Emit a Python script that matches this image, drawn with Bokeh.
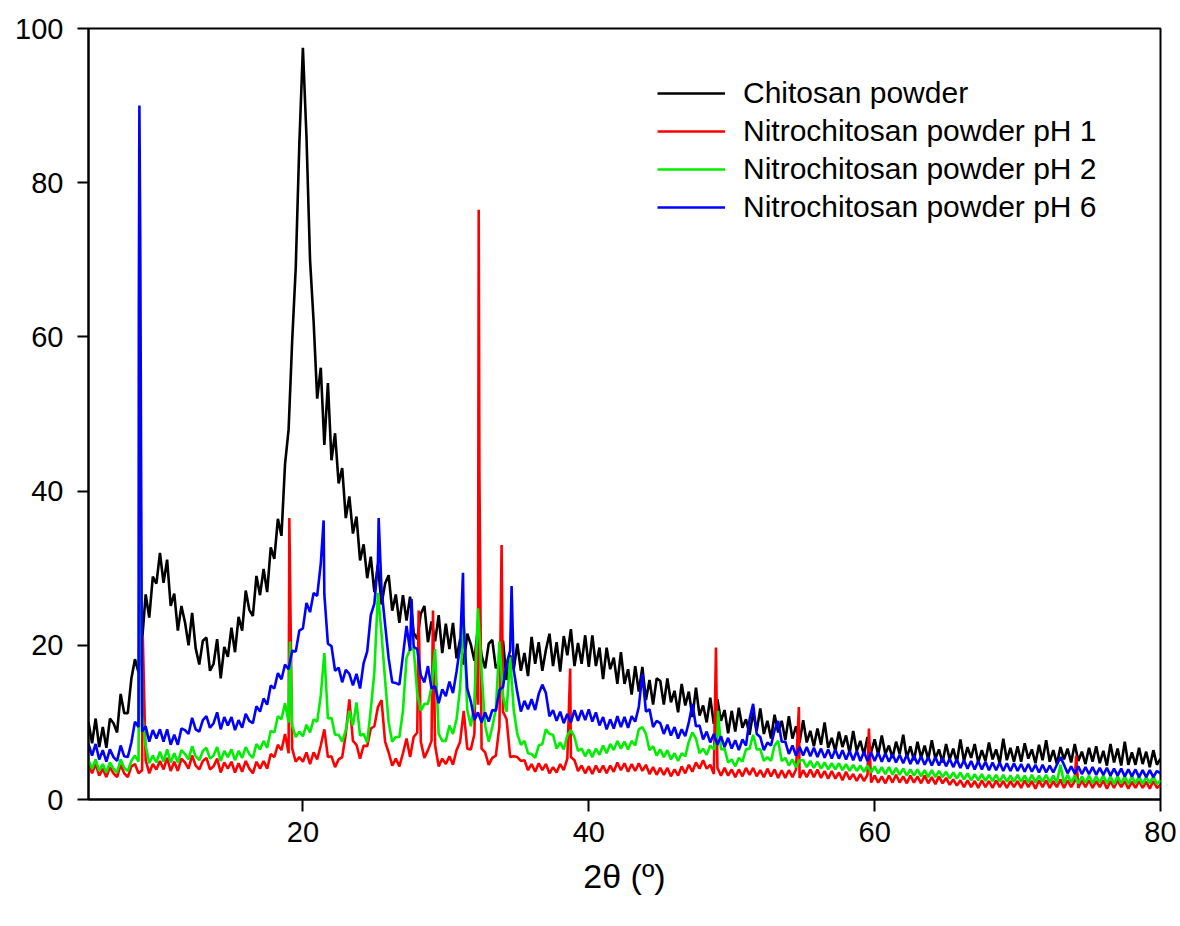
import numpy as np
from bokeh.plotting import figure
from bokeh.models import Legend, LegendItem, FixedTicker, ColumnDataSource
from bokeh.embed import file_html
from bokeh.resources import INLINE

# ---------------- data (2theta grid: 5.0 .. 80.0, step 0.25) ----------------
X_START = 5.0
X_STEP = 0.25

chitosan_y = [
    10.0, 7.3, 10.5, 6.8, 9.4, 6.7, 10.5, 9.9, 8.7, 13.7, 11.2, 11.2, 15.7, 18.2, 16.5, 20.6, 26.6, 23.6, 28.9, 28.0,
    32.0, 28.1, 31.1, 25.1, 26.7, 21.9, 25.1, 23.0, 20.0, 24.2, 19.6, 17.5, 20.6, 21.0, 16.7, 17.6, 20.8, 15.7, 19.8, 18.5,
    22.3, 19.1, 23.7, 21.9, 27.1, 24.6, 23.8, 29.0, 26.5, 29.9, 26.9, 32.7, 31.2, 36.4, 34.2, 43.5, 48.0, 59.5, 69.0, 85.0,
    97.5, 86.0, 70.0, 62.0, 52.0, 56.0, 46.0, 54.0, 44.0, 47.5, 41.0, 43.0, 36.5, 39.3, 34.5, 36.7, 31.0, 33.1, 28.7, 31.5,
    26.9, 30.4, 25.3, 28.0, 29.1, 24.5, 26.6, 22.9, 26.5, 23.2, 26.3, 21.6, 20.8, 24.1, 25.1, 20.4, 23.1, 20.5, 23.9, 19.0,
    22.8, 19.5, 22.9, 18.3, 20.8, 17.5, 21.5, 20.1, 18.0, 22.4, 18.7, 17.0, 20.2, 20.7, 17.0, 17.8, 20.6, 15.5, 18.7, 16.9,
    20.2, 16.7, 19.0, 16.0, 21.1, 17.6, 20.4, 16.7, 19.4, 21.5, 17.3, 20.4, 16.6, 21.2, 18.7, 22.1, 17.3, 20.3, 17.6, 21.3,
    17.2, 21.3, 17.3, 19.7, 15.6, 19.7, 16.9, 18.4, 15.0, 19.1, 15.0, 16.9, 13.6, 17.3, 14.0, 17.2, 12.9, 15.5, 12.3, 15.7,
    15.4, 12.3, 15.7, 12.6, 14.1, 11.3, 15.0, 12.2, 14.0, 10.7, 14.5, 10.9, 12.2, 10.0, 13.2, 9.8, 13.0, 10.2, 11.6, 8.6,
    11.5, 8.8, 11.9, 9.3, 10.4, 8.4, 11.3, 8.9, 11.8, 8.5, 10.2, 7.9, 11.0, 8.7, 10.2, 7.7, 10.8, 7.9, 9.5, 7.4,
    10.3, 7.4, 8.9, 6.9, 9.2, 7.1, 10.0, 6.7, 8.0, 6.3, 8.8, 6.8, 8.3, 6.0, 8.9, 6.3, 7.6, 5.8, 8.1, 6.1,
    7.8, 5.8, 8.3, 5.9, 7.0, 5.4, 7.5, 5.9, 8.4, 5.4, 6.9, 5.1, 7.5, 5.4, 7.0, 5.2, 7.7, 5.3, 6.5, 4.8,
    7.2, 5.2, 6.6, 4.8, 7.8, 5.0, 6.8, 5.4, 7.2, 4.8, 6.4, 5.0, 7.4, 5.2, 6.5, 4.7, 7.9, 5.1, 6.7, 4.9,
    6.9, 4.9, 7.3, 5.3, 6.5, 4.7, 7.1, 5.1, 7.7, 4.9, 6.4, 4.6, 6.8, 5.2, 6.6, 4.8, 7.2, 5.0, 6.2, 4.6,
    6.7, 4.9, 6.9, 4.7, 6.3, 4.4, 7.2, 4.8, 6.6, 4.4, 7.5, 4.5, 6.1, 4.5, 6.7, 4.6, 6.2, 4.2, 6.4, 4.5,
    5.3,
]
chitosan_peak_x = []
chitosan_peak_y = []

ph1_y = [
    4.6, 3.4, 4.6, 3.1, 4.0, 2.9, 4.2, 3.4, 2.9, 4.5, 3.4, 2.9, 4.3, 4.6, 3.4, 3.8, 5.1, 3.4, 4.6, 3.9,
    5.0, 3.9, 5.4, 3.7, 4.9, 3.7, 5.3, 4.8, 4.0, 5.7, 4.4, 3.9, 5.0, 5.4, 3.9, 4.3, 5.3, 3.5, 4.8, 4.0,
    4.9, 3.5, 4.7, 3.6, 5.0, 4.0, 3.4, 4.9, 4.0, 5.0, 4.0, 5.9, 5.5, 7.1, 6.4, 8.5, 6.0, 6.6, 4.9, 5.5,
    4.9, 6.1, 4.6, 6.1, 5.2, 7.0, 9.1, 5.5, 5.6, 4.2, 5.2, 5.5, 8.5, 13.0, 7.6, 7.1, 5.3, 7.0, 6.9, 9.2,
    9.5, 12.0, 12.9, 7.5, 6.1, 4.4, 5.3, 4.3, 6.0, 7.9, 5.5, 8.1, 8.7, 7.5, 5.4, 6.4, 7.6, 7.0, 4.3, 5.3,
    4.6, 5.6, 4.5, 6.4, 7.5, 11.5, 6.6, 6.5, 8.5, 12.3, 6.6, 6.1, 4.5, 5.4, 5.7, 9.5, 11.4, 10.4, 5.5, 5.6,
    5.5, 5.0, 5.1, 3.8, 4.6, 3.6, 4.7, 3.8, 4.6, 3.4, 4.2, 3.5, 4.6, 3.8, 5.3, 5.5, 5.1, 3.7, 4.4, 3.4,
    4.3, 3.3, 4.4, 3.5, 4.4, 3.4, 4.4, 3.6, 4.8, 3.8, 4.7, 3.6, 4.6, 3.7, 4.7, 3.7, 4.5, 3.3, 4.2, 3.2,
    4.1, 3.2, 4.1, 3.0, 3.9, 3.1, 4.3, 3.4, 4.5, 3.6, 4.8, 4.0, 5.1, 4.0, 4.5, 3.3, 4.1, 3.1, 4.1, 3.1,
    3.9, 2.9, 3.9, 3.0, 4.1, 3.2, 4.1, 3.0, 3.8, 2.9, 4.0, 3.0, 3.9, 2.8, 3.8, 2.8, 3.8, 2.9, 3.9, 2.8,
    3.8, 2.9, 3.9, 2.9, 3.9, 2.8, 3.7, 2.7, 3.7, 2.7, 3.5, 2.5, 3.6, 2.6, 3.3, 2.4, 3.3, 2.4, 3.2, 2.2,
    3.1, 2.2, 3.0, 2.1, 3.1, 2.2, 3.2, 2.2, 3.0, 2.1, 3.1, 2.2, 3.0, 2.1, 3.1, 2.1, 2.9, 2.0, 3.0, 2.1,
    2.8, 1.9, 2.6, 1.8, 2.5, 1.6, 2.5, 1.6, 2.4, 1.5, 2.5, 1.6, 2.4, 1.5, 2.5, 1.6, 2.4, 1.5, 2.4, 1.6,
    2.4, 1.5, 2.5, 1.6, 2.4, 1.4, 2.5, 1.6, 2.5, 1.5, 2.4, 1.6, 2.6, 1.5, 2.5, 1.6, 2.4, 1.5, 2.5, 1.6,
    2.5, 1.5, 2.4, 1.6, 2.5, 1.4, 2.4, 1.5, 2.5, 1.6, 2.4, 1.4, 2.3, 1.5, 2.4, 1.5, 2.3, 1.4, 2.4, 1.5,
    1.9,
]
ph1_peak_x = [8.8, 19.05, 28.1, 29.1, 32.1, 32.3, 32.35, 33.9, 38.7, 48.9, 54.7, 59.6, 74.1]
ph1_peak_y = [21.0, 36.5, 24.5, 24.5, 19.7, 76.5, 42.0, 33.0, 17.0, 19.7, 12.0, 9.2, 5.7]

ph2_y = [
    5.1, 4.0, 5.2, 3.7, 4.6, 3.5, 4.8, 4.0, 3.5, 5.2, 4.1, 3.7, 5.0, 5.7, 4.9, 11.0, 7.0, 4.7, 5.7, 4.8,
    6.2, 4.9, 6.5, 4.8, 6.0, 4.8, 6.4, 5.9, 5.2, 6.9, 5.6, 5.1, 6.3, 6.7, 5.3, 5.7, 6.8, 5.0, 6.3, 5.5,
    6.5, 5.1, 6.3, 5.4, 6.8, 5.9, 5.4, 7.2, 6.5, 7.6, 6.7, 8.9, 8.7, 10.8, 10.4, 12.5, 10.0, 9.6, 8.1, 8.8,
    8.2, 9.7, 8.7, 10.4, 10.1, 13.5, 19.0, 10.5, 10.6, 8.4, 8.4, 7.5, 9.0, 11.5, 9.6, 12.6, 8.3, 8.5, 7.4, 11.7,
    16.5, 26.8, 21.5, 15.5, 10.0, 7.5, 8.1, 8.1, 11.5, 18.4, 19.5, 19.6, 13.7, 11.5, 12.4, 12.4, 14.6, 19.5, 8.5, 7.6,
    7.6, 9.6, 8.5, 10.4, 14.5, 23.5, 11.6, 9.5, 12.5, 24.8, 16.6, 9.6, 7.5, 9.4, 11.7, 20.5, 13.4, 11.4, 18.5, 11.6,
    8.5, 7.1, 7.6, 6.0, 5.9, 5.4, 7.0, 7.2, 9.1, 8.5, 8.4, 6.6, 7.4, 6.5, 8.3, 9.0, 8.1, 6.3, 6.6, 5.6,
    6.5, 5.5, 6.6, 5.8, 7.0, 6.0, 7.2, 6.4, 7.6, 6.6, 7.5, 6.5, 7.6, 7.0, 9.1, 9.4, 8.5, 6.4, 6.9, 5.7,
    6.5, 5.5, 6.4, 5.2, 6.0, 5.0, 6.0, 5.6, 7.5, 8.7, 7.9, 6.0, 6.6, 5.8, 7.0, 6.5, 8.4, 6.5, 6.6, 4.8,
    5.2, 4.3, 5.4, 4.9, 6.5, 6.6, 8.4, 6.5, 6.5, 5.0, 5.5, 5.0, 7.0, 7.6, 5.0, 5.4, 4.4, 5.2, 4.2, 5.1,
    5.1, 4.2, 5.0, 4.1, 4.9, 4.0, 4.8, 3.9, 4.7, 3.9, 4.7, 3.8, 4.6, 3.7, 4.5, 3.7, 4.4, 3.6, 4.4, 3.5,
    4.3, 3.4, 4.2, 3.3, 4.2, 3.2, 4.1, 3.2, 4.0, 3.1, 3.9, 3.1, 3.9, 3.0, 3.8, 2.9, 3.8, 2.9, 3.7, 2.9,
    3.6, 2.7, 3.5, 2.7, 3.5, 2.6, 3.4, 2.5, 3.3, 2.5, 3.3, 2.4, 3.2, 2.4, 3.2, 2.3, 3.2, 2.3, 3.1, 2.3,
    3.2, 2.3, 3.1, 2.2, 3.2, 2.2, 3.1, 2.3, 3.2, 2.2, 3.1, 2.2, 4.5, 2.1, 3.2, 2.2, 3.1, 2.1, 3.0, 2.2,
    3.1, 2.1, 3.0, 2.2, 3.1, 2.1, 3.0, 2.0, 3.0, 2.1, 3.0, 2.0, 3.0, 2.1, 3.0, 2.0, 2.9, 2.1, 3.0, 2.0,
    2.5,
]
ph2_peak_x = [8.6, 19.1, 49.05]
ph2_peak_y = [48.0, 20.5, 11.5]

ph6_y = [
    7.2, 5.7, 7.2, 5.2, 6.4, 4.9, 6.5, 5.5, 5.0, 7.0, 5.6, 5.5, 7.4, 10.1, 9.4, 8.8, 9.5, 7.5, 9.0, 7.9,
    9.1, 7.5, 9.1, 7.1, 8.4, 7.1, 9.2, 9.0, 8.5, 10.6, 9.1, 8.8, 10.3, 10.8, 9.3, 9.9, 11.3, 9.1, 10.7, 9.6,
    10.7, 9.0, 10.3, 9.3, 11.1, 10.2, 9.9, 12.1, 11.4, 13.1, 12.3, 14.8, 14.4, 16.4, 15.6, 17.5, 16.9, 19.3, 19.2, 21.9,
    22.2, 25.5, 24.3, 26.8, 26.4, 30.6, 26.6, 20.2, 19.9, 16.7, 17.1, 15.2, 16.8, 16.3, 14.8, 16.3, 14.4, 17.7, 19.2, 23.9,
    25.4, 30.8, 27.3, 22.7, 18.3, 15.2, 15.1, 14.9, 18.7, 22.5, 19.3, 19.8, 19.5, 16.1, 15.2, 17.3, 14.4, 14.7, 12.5, 14.3,
    13.4, 15.3, 13.8, 16.6, 19.9, 22.6, 14.4, 12.7, 10.3, 11.3, 10.0, 11.3, 10.1, 11.6, 11.5, 14.2, 14.6, 17.6, 19.3, 16.8,
    13.9, 11.4, 12.8, 11.7, 13.0, 11.6, 13.7, 14.9, 13.8, 10.8, 11.6, 10.2, 11.4, 9.9, 11.1, 10.0, 11.6, 10.2, 11.6, 10.3,
    11.7, 10.1, 11.3, 9.6, 10.7, 9.1, 10.4, 9.2, 10.8, 9.4, 10.7, 9.3, 10.8, 10.1, 12.0, 16.3, 11.4, 11.7, 9.4, 10.2,
    9.9, 8.5, 9.7, 8.3, 9.4, 7.9, 9.1, 8.2, 10.0, 12.4, 9.5, 9.6, 7.8, 8.8, 7.4, 8.5, 7.1, 8.2, 6.8, 8.0,
    6.6, 7.7, 6.4, 7.8, 7.0, 10.4, 12.4, 8.5, 8.1, 6.4, 7.4, 7.0, 9.0, 10.2, 7.5, 7.5, 5.9, 7.0, 5.7, 6.8,
    5.7, 6.8, 5.6, 6.7, 5.5, 6.6, 5.4, 6.5, 5.3, 6.5, 5.3, 6.4, 5.2, 6.3, 5.1, 6.3, 5.0, 6.2, 5.0, 6.1,
    5.0, 6.1, 4.9, 6.0, 4.9, 5.9, 4.8, 5.8, 4.7, 5.8, 4.6, 5.7, 4.6, 5.6, 4.5, 5.5, 4.4, 5.5, 4.4, 5.4,
    4.3, 5.3, 4.2, 5.2, 4.1, 5.1, 4.0, 5.0, 3.9, 5.0, 3.9, 4.9, 3.8, 4.8, 3.8, 4.8, 3.7, 4.7, 3.7, 4.7,
    3.7, 4.6, 3.6, 4.6, 3.6, 4.5, 3.5, 4.5, 3.5, 4.4, 3.5, 4.5, 5.5, 4.5, 3.4, 4.3, 3.4, 4.3, 3.3, 4.2,
    3.3, 4.2, 3.2, 4.1, 3.2, 4.1, 3.1, 4.0, 3.1, 4.0, 3.0, 3.9, 3.0, 3.9, 2.9, 3.8, 2.9, 3.8, 2.9, 3.7,
    3.4,
]
ph6_peak_x = [8.52, 8.56, 8.62, 21.45, 25.3, 27.6, 31.2, 34.6]
ph6_peak_y = [63.0, 90.0, 73.0, 36.2, 36.5, 26.0, 29.4, 27.7]

series_names = ["Chitosan powder", "Nitrochitosan powder pH 1",
                "Nitrochitosan powder pH 2", "Nitrochitosan powder pH 6"]
series_colors = ["#000000", "#ff0000", "#00ee00", "#0000ff"]

x_ticks = [20, 40, 60, 80]
y_ticks = [0, 20, 40, 60, 80, 100]


def build(base, px, py):
    assert len(base) == 301, len(base)
    xs = [X_START + X_STEP * i for i in range(len(base))]
    pts = sorted(list(zip(xs, base)) + list(zip(px, py)), key=lambda t: t[0])
    return dict(x=[p[0] for p in pts], y=[p[1] for p in pts])


all_series = [
    build(chitosan_y, chitosan_peak_x, chitosan_peak_y),
    build(ph1_y, ph1_peak_x, ph1_peak_y),
    build(ph2_y, ph2_peak_x, ph2_peak_y),
    build(ph6_y, ph6_peak_x, ph6_peak_y),
]

FONT = "Liberation Sans"

p = figure(width=1180, height=926, x_range=(5, 80), y_range=(0, 100),
           output_backend="svg", toolbar_location=None,
           min_border_left=88, min_border_right=20, min_border_top=28, min_border_bottom=127)
p.background_fill_color = "white"
p.border_fill_color = "white"
p.outline_line_color = "black"
p.outline_line_width = 2
p.xgrid.visible = False
p.ygrid.visible = False

for ax in (p.xaxis[0], p.yaxis[0]):
    ax.axis_line_width = 2
    ax.axis_line_color = "black"
    ax.major_tick_line_width = 2
    ax.major_tick_line_color = "black"
    ax.major_tick_in = 0
    ax.minor_tick_line_color = None
    ax.major_label_text_font = FONT
    ax.major_label_text_font_size = "29px"
    ax.major_label_text_color = "black"

p.xaxis.ticker = FixedTicker(ticks=x_ticks)
p.yaxis.ticker = FixedTicker(ticks=y_ticks)
p.xaxis.major_tick_out = 12
p.yaxis.major_tick_out = 11
p.xaxis.major_label_standoff = 10
p.yaxis.major_label_standoff = 14
p.xaxis.axis_label = "2θ (º)"
p.xaxis.axis_label_text_font = FONT
p.xaxis.axis_label_text_font_style = "normal"
p.xaxis.axis_label_text_font_size = "34px"
p.xaxis.axis_label_text_color = "black"
p.xaxis.axis_label_standoff = 12

renderers = []
for data, color in zip(all_series, series_colors):
    r = p.line("x", "y", source=ColumnDataSource(data), line_color=color, line_width=2.6)
    renderers.append(r)

legend = Legend(items=[LegendItem(label=n, renderers=[r]) for n, r in zip(series_names, renderers)],
                location=(569, 575), padding=0, margin=0,
                border_line_color=None, background_fill_alpha=0,
                label_text_font=FONT, label_text_font_size="30px", label_text_color="black",
                glyph_width=68, glyph_height=30, label_height=30, label_standoff=18, spacing=4)
p.add_layout(legend)

open("out.html", "w").write(file_html(p, INLINE))
